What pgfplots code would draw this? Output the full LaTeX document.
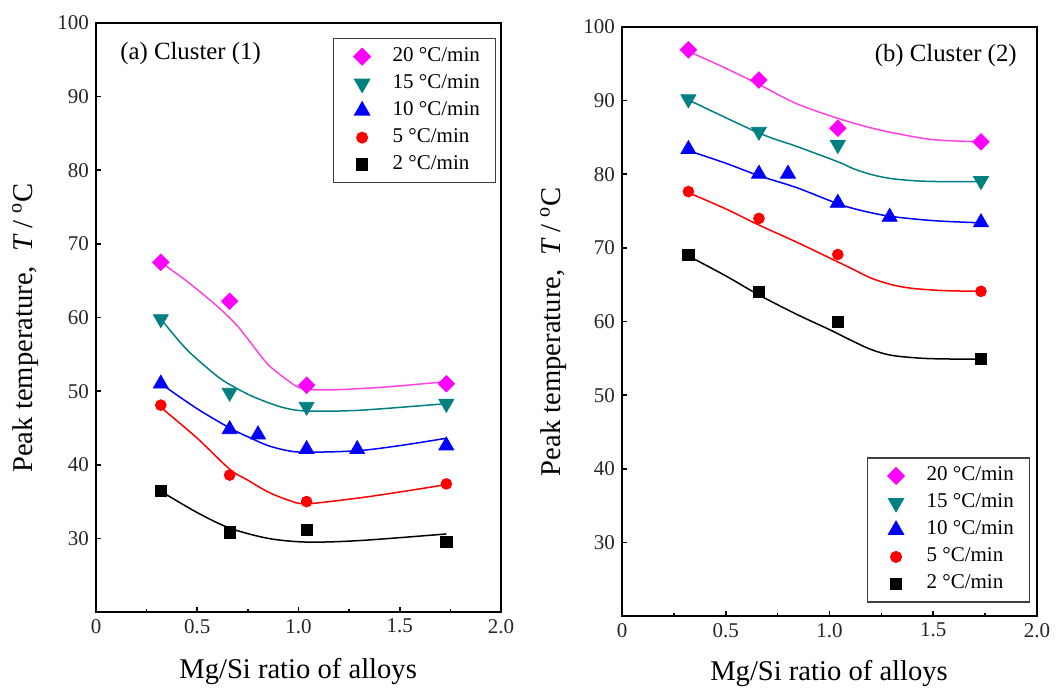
\documentclass[border=0pt]{standalone}
\usepackage{fontspec}
\setmainfont{Liberation Serif}
\usepackage{pgfplots}
\pgfplotsset{compat=1.18}
\definecolor{mypink}{HTML}{FF00FF}
\definecolor{pinkline}{HTML}{FF44DD}
\definecolor{myteal}{HTML}{008080}
\definecolor{myblue}{HTML}{0000FF}
\definecolor{myred}{HTML}{FF0000}
\pgfplotsset{
  panel/.style={
    scale only axis, height=294.5pt,
    xmin=0, xmax=2, ymin=20, ymax=100,
    xtick={0,0.5,1,1.5,2}, xticklabels={0,0.5,1.0,1.5,2.0},
    minor xtick={0.25,0.75,1.25,1.75},
    ytick={30,40,50,60,70,80,90,100},
    tick align=inside, tick pos=left,
    major tick length=2.5pt, minor tick length=1.6pt,
    axis line style={line width=1pt},
    every tick/.style={black, line width=0.8pt},
    tick label style={font=\fontsize{10.5}{12}\selectfont, text=black!85},
    /pgf/number format/assume math mode=true,
    label style={font=\fontsize{14.3}{16}\selectfont},
    xlabel={Mg/Si ratio of alloys},
    ylabel={Peak temperature,\ \ {\itshape T} / \textsuperscript{o}C},
    legend style={draw=black!75, line width=0.6pt, font=\fontsize{10.5}{12}\selectfont,
      inner xsep=8pt, inner ysep=4pt, row sep=3.5pt,
      nodes={inner sep=0pt, text height=7.5pt, text depth=2.5pt}},
    legend cell align=left,
    legend image code/.code={\path (-6pt,0pt) (15pt,0pt); \draw[mark repeat=2,mark phase=2,##1] plot coordinates {(-6pt,0pt) (0pt,0pt) (6pt,0pt)};},
    curve/.style={smooth, tension=0.5, line width=0.75pt, no marks, forget plot},
    m20/.style={only marks, mark=square*, mark size=2.9pt, mark options={rotate=45, fill=mypink, draw=mypink}},
    m15/.style={only marks, mark=triangle*, mark size=4.3pt, mark options={rotate=180, fill=myteal, draw=myteal}},
    m10/.style={only marks, mark=triangle*, mark size=4.3pt, mark options={fill=myblue, draw=myblue}},
    m5/.style={only marks, mark=*, mark size=2.7pt, mark options={fill=myred, draw=myred}},
    m2/.style={only marks, mark=square*, mark size=2.8pt, mark options={fill=black, draw=black}},
  }
}
\begin{document}
\begin{tikzpicture}
\path[use as bounding box] (0pt,0pt) rectangle (528pt,-345.5pt);
% ---------------- left panel
\begin{axis}[panel, width=202.5pt, at={(48pt,-306pt)}, anchor=south west,
  xlabel style={at={(axis description cs:0.499,-0.101)}, anchor=center},
  ylabel style={at={(axis description cs:-0.175,0.482)}, anchor=center},
  legend style={at={(axis description cs:0.585,0.9745)}, anchor=north west}]
\addplot[curve, pinkline] coordinates {(0.32,67.5) (0.45,64.9) (0.6,61.5) (0.7,58.8) (0.78,56) (0.85,53.6) (0.93,51.8) (1.0,50.5) (1.06,50.2) (1.2,50.2) (1.45,50.6) (1.73,51.3)};
\addplot[curve, myteal] coordinates {(0.32,59.8) (0.45,55.6) (0.6,52.0) (0.68,50.6) (0.78,49.2) (0.92,47.8) (1.04,47.3) (1.3,47.4) (1.73,48.3)};
\addplot[curve, myblue] coordinates {(0.32,51.0) (0.5,47.6) (0.66,45.0) (0.75,43.8) (0.85,42.6) (0.95,41.9) (1.04,41.7) (1.29,41.9) (1.5,42.6) (1.73,43.6)};
\addplot[curve, myred] coordinates {(0.32,47.8) (0.5,43.6) (0.66,39.4) (0.75,37.9) (0.85,36.3) (0.95,35.2) (1.04,34.7) (1.3,35.5) (1.5,36.3) (1.73,37.3)};
\addplot[curve, black] coordinates {(0.32,36.4) (0.5,33.5) (0.66,31.4) (0.85,30.0) (1.04,29.5) (1.3,29.7) (1.73,30.6)};
\addplot[m20] coordinates {(0.32,67.5) (0.66,62.2) (1.04,50.8) (1.73,51.0)};
\addlegendentry{20 °C/min}
\addplot[m15] coordinates {(0.32,59.8) (0.66,49.8) (1.04,47.9) (1.73,48.3)};
\addlegendentry{15 °C/min}
\addplot[m10] coordinates {(0.32,51.0) (0.66,44.8) (0.80,44.1) (1.04,42.1) (1.29,42.1) (1.73,42.6)};
\addlegendentry{10 °C/min}
\addplot[m5] coordinates {(0.32,48.1) (0.66,38.6) (1.04,35.0) (1.73,37.4)};
\addlegendentry{5 °C/min}
\addplot[m2] coordinates {(0.32,36.5) (0.66,30.8) (1.04,31.1) (1.73,29.5)};
\addlegendentry{2 °C/min}
\node[anchor=west, font=\fontsize{12.4}{14}\selectfont, inner sep=0pt] at (axis description cs:0.059,0.949) {(a) Cluster (1)};
\end{axis}
% ---------------- right panel
\begin{axis}[panel, width=207.5pt, at={(311pt,-308pt)}, anchor=south west,
  xlabel style={at={(axis description cs:0.499,-0.097)}, anchor=center},
  ylabel style={at={(axis description cs:-0.166,0.483)}, anchor=center},
  legend style={at={(axis description cs:0.59,0.2694)}, anchor=north west}]
\addplot[curve, pinkline] coordinates {(0.32,96.7) (0.5,94.4) (0.66,92.2) (0.84,89.6) (1.04,87.6) (1.2,86.3) (1.33,85.5) (1.5,84.7) (1.73,84.4)};
\addplot[curve, myteal] coordinates {(0.32,90.1) (0.66,85.6) (0.84,83.8) (1.04,81.7) (1.12,80.7) (1.21,79.9) (1.3,79.4) (1.42,79.1) (1.55,79.0) (1.73,79.0)};
\addplot[curve, myblue] coordinates {(0.32,83.2) (0.5,81.5) (0.66,79.8) (0.84,78.2) (1.04,76.0) (1.15,75.1) (1.29,74.3) (1.5,73.7) (1.73,73.4)};
\addplot[curve, myred] coordinates {(0.32,77.5) (0.5,75.3) (0.66,73.1) (0.84,70.8) (1.04,68.1) (1.12,67.0) (1.2,65.9) (1.3,65.0) (1.4,64.5) (1.55,64.2) (1.73,64.1)};
\addplot[curve, black] coordinates {(0.32,68.9) (0.5,66.2) (0.66,63.6) (0.84,61.0) (1.0,58.9) (1.1,57.5) (1.2,56.2) (1.3,55.4) (1.45,55.0) (1.6,54.9) (1.73,54.9)};
\addplot[m20] coordinates {(0.32,96.9) (0.66,92.8) (1.04,86.25) (1.73,84.4)};
\addlegendentry{20 °C/min}
\addplot[m15] coordinates {(0.32,90.2) (0.66,85.8) (1.04,84.0) (1.73,79.1)};
\addlegendentry{15 °C/min}
\addplot[m10] coordinates {(0.32,83.4) (0.66,80.05) (0.80,80.05) (1.04,76.1) (1.29,74.2) (1.73,73.45)};
\addlegendentry{10 °C/min}
\addplot[m5] coordinates {(0.32,77.65) (0.66,74.0) (1.04,69.1) (1.73,64.1)};
\addlegendentry{5 °C/min}
\addplot[m2] coordinates {(0.32,69.05) (0.66,64.0) (1.04,60.0) (1.73,54.9)};
\addlegendentry{2 °C/min}
\node[anchor=east, font=\fontsize{12.4}{14}\selectfont, inner sep=0pt] at (axis description cs:0.952,0.952) {(b) Cluster (2)};
\end{axis}
\end{tikzpicture}
\end{document}
